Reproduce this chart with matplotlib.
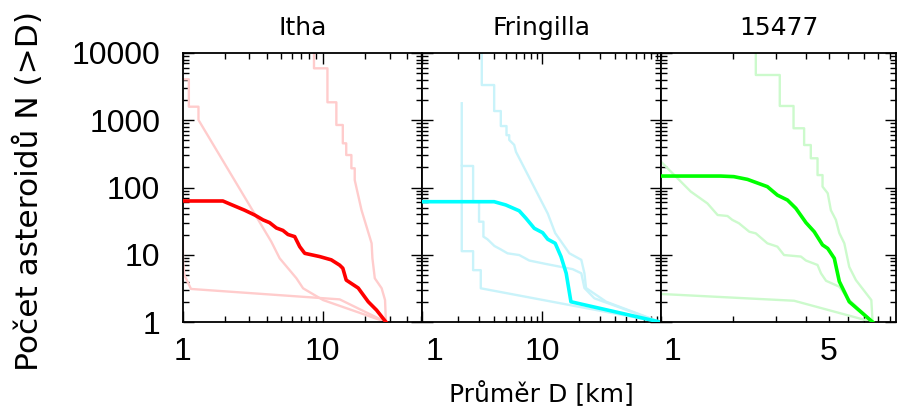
import numpy as np
import matplotlib.pyplot as plt
from matplotlib.ticker import FixedLocator, LogLocator, NullFormatter
from matplotlib.transforms import ScaledTranslation

# ---- data (D in km, N(>D)) ----
titles = ['Itha', 'Fringilla', '15477']

# Itha
itha_D = [1.0, 1.94, 2.17, 2.77, 3.27, 3.75, 4.18, 4.67, 5.2, 5.65, 6.31, 6.85, 7.44,
          9.5, 11.5, 13.2, 13.9, 14.7, 17.9, 21.1, 24.2, 28.2]
itha_N = [63, 63, 57, 46, 39, 33, 30, 25, 23, 20, 18.6, 13.2, 10.5,
          9.4, 8.4, 7.0, 6.3, 4.2, 3.2, 2.0, 1.5, 1]
itha_a_D = [1.0, 1.11, 1.11, 1.3, 1.3, 4.3, 4.93, 6.49, 7.24, 10.05, 28.2]
itha_a_N = [4060, 4060, 1590, 1590, 1010, 15.6, 8.85, 4.47, 3.17, 2.12, 1]
itha_b_D = [8.66, 8.66, 10.8, 10.8, 12.5, 12.5, 13.9, 13.9, 14.7, 14.7, 16.0, 16.0,
            16.9, 16.9, 18.9, 22.3, 22.6, 23.5, 26.3, 27.8, 28.2]
itha_b_N = [15000, 5920, 5920, 1850, 1850, 850, 850, 454, 454, 304, 304, 193,
            193, 129, 46, 14.8, 8.85, 4.47, 3.17, 2.12, 1]
itha_c_D = [1.005, 1.01, 1.03, 1.15, 13.2, 28.2]
itha_c_N = [20, 8, 5, 3.1, 2.17, 1]

# Fringilla
fri_D = [1.0, 3.98, 4.97, 6.43, 7.3, 8.58, 10.06, 11.1, 12.8, 14.3, 15.8, 17.3, 95]
fri_N = [61.5, 61.5, 55, 45, 35, 24.7, 21.3, 17, 14.8, 9.4, 5.3, 2.0, 1]
fri_a_D = [3.14, 3.14, 3.98, 3.98, 4.52, 4.52, 5.04, 5.04, 5.31, 5.31, 5.84, 6.04,
           11.1, 12.8, 16.8, 21.1, 22.4, 23.1, 34, 95]
fri_a_N = [15000, 3340, 3340, 1370, 1370, 820, 820, 600, 600, 510, 430, 340,
           41, 21, 10.5, 8.4, 5.3, 3.2, 2.0, 1]
fri_b_D = [2.14, 2.14, 2.66, 2.66, 2.98, 2.98, 3.24, 3.24, 3.5, 4.0, 4.52, 5.14,
           6.43, 7.8, 10.7, 17.9, 21.1, 22.4, 27.1, 95]
fri_b_N = [1790, 209, 209, 61, 61, 31, 31, 18.6, 17, 13.5, 12.0, 10.5,
           9.9, 8.2, 7.3, 6.1, 5.3, 3.2, 2.25, 1]
fri_c_D = [2.14, 2.14, 2.66, 2.66, 3.08, 3.08, 95]
fri_c_N = [209, 11.3, 11.3, 5.9, 5.9, 3.17, 1]

# 15477
ast_D = [1.0, 1.77, 2.01, 2.29, 2.77, 3.05, 3.36, 3.64, 4.01, 4.34, 4.7, 4.94,
         5.26, 5.52, 6.07, 7.59]
ast_N = [148, 148, 145, 132, 103, 77, 65, 49, 30, 22, 14, 12.4,
         8.85, 4.0, 2.0, 1]
ast_a_D = [2.48, 2.48, 3.12, 3.12, 3.56, 3.56, 3.94, 3.94, 4.2, 4.2, 4.48, 4.48,
           4.7, 4.7, 4.94, 5.09, 5.34, 5.52, 5.79, 6.07, 6.47, 7.5, 7.59]
ast_a_N = [15000, 4710, 4710, 1630, 1630, 760, 760, 428, 428, 272, 272, 153,
           153, 103, 82, 46, 33, 21, 14.8, 6.6, 4.2, 2.12, 1]
ast_b_D = [1.0, 1.33, 1.56, 1.72, 1.89, 1.98, 2.11, 2.33, 2.48, 2.77, 3.05, 3.25,
           3.82, 4.01, 4.48, 4.63, 4.86, 5.52, 5.98, 7.59]
ast_b_N = [242, 87, 58, 39, 37.7, 33, 29.4, 22, 20.8, 14.8, 13.2, 9.9,
           9.4, 8.2, 7.05, 5.3, 4.1, 3.35, 2.25, 1]
ast_c_D = [1.0, 3.58, 7.59]
ast_c_N = [2.61, 2.07, 1]

x_ticks = [[1, 10], [1, 10], [1, 5]]
x_max = [51, 97, 9.5]
y_ticks = [1, 10, 100, 1000, 10000]

thick_colors = ['#ff0000', '#00ffff', '#00ff00']
light_colors = ['#ffcccc', '#c9f3fa', '#ccfacc']

panels = [
    (itha_D, itha_N, [(itha_a_D, itha_a_N), (itha_b_D, itha_b_N), (itha_c_D, itha_c_N)]),
    (fri_D, fri_N, [(fri_a_D, fri_a_N), (fri_b_D, fri_b_N), (fri_c_D, fri_c_N)]),
    (ast_D, ast_N, [(ast_a_D, ast_a_N), (ast_b_D, ast_b_N), (ast_c_D, ast_c_N)]),
]

W, H = 899, 413
fig = plt.figure(figsize=(W / 100, H / 100), dpi=100)
edges = [(182.5, 422), (422, 661), (661, 896)]
top, bottom = 53, 322

tick_font = dict(family='Liberation Sans', size=23)

for i, (D, N, others) in enumerate(panels):
    l, r = edges[i]
    ax = fig.add_axes([l / W, 1 - bottom / H, (r - l) / W, (bottom - top) / H])
    for d, n in others:
        ax.plot(d, n, color=light_colors[i], lw=1.7, zorder=2)
    ax.plot(D, N, color=thick_colors[i], lw=2.6, zorder=3)

    ax.set_xscale('log')
    ax.set_yscale('log')
    ax.set_xlim(1, x_max[i])
    ax.set_ylim(1, 10000)

    ax.xaxis.set_major_locator(FixedLocator(x_ticks[i]))
    ax.set_xticklabels([str(t) for t in x_ticks[i]], fontdict=tick_font)
    ax.xaxis.set_minor_locator(LogLocator(subs=np.arange(2, 10), numticks=100))
    ax.xaxis.set_minor_formatter(NullFormatter())
    ax.yaxis.set_major_locator(FixedLocator(y_ticks))
    ax.yaxis.set_minor_locator(LogLocator(subs=np.arange(2, 10), numticks=100))
    ax.yaxis.set_minor_formatter(NullFormatter())
    if i == 0:
        ax.set_yticklabels([str(t) for t in y_ticks], fontdict=tick_font)
    else:
        ax.set_yticklabels([])

    ax.tick_params(which='both', direction='in', top=True, right=True, width=1, color='black')
    ax.tick_params(which='major', length=8)
    ax.tick_params(which='minor', length=4.5)
    ax.tick_params(axis='x', which='major', pad=11)
    ax.tick_params(axis='y', which='major', pad=16)
    if i == 2:
        ax.tick_params(axis='x', which='major', length=4.5)
    for s in ax.spines.values():
        s.set_linewidth(1.3)

    if i > 0:
        lab = ax.get_xticklabels()[0]
        lab.set_transform(lab.get_transform() + ScaledTranslation(0.12, 0, fig.dpi_scale_trans))

    ax.set_title(titles[i], fontsize=18, pad=13)

fig.text(541 / W, 1 - 394 / H, 'Průměr D [km]', fontsize=18, ha='center', va='center')
fig.text(29 / W, 1 - 191 / H, 'Počet asteroidů N (>D)', fontsize=22.5,
         rotation=90, ha='center', va='center')

fig.savefig('out.png', dpi=100)
